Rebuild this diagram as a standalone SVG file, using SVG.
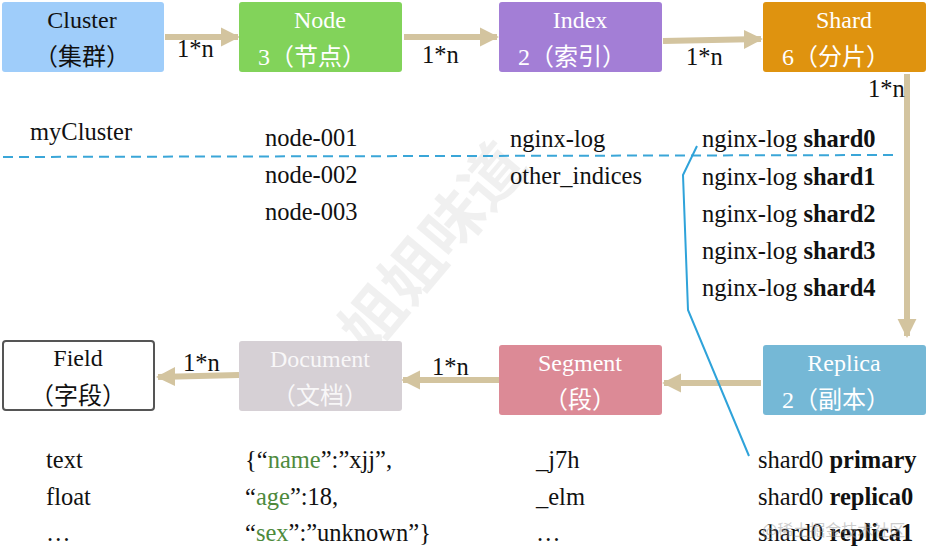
<svg xmlns="http://www.w3.org/2000/svg" width="926" height="558" viewBox="0 0 926 558">
<style>
.t{font-family:"Liberation Serif","Noto Sans CJK SC",serif;font-size:24.5px;fill:#111}
.bt{font-family:"Liberation Serif","Noto Sans CJK SC",serif;font-size:24px;fill:#fff;text-anchor:middle}
.dk{fill:#111}
.b{font-weight:bold}
.g{fill:#4e8a3c}
.arr{stroke:#d3c49f;stroke-width:6;fill:none}
</style>
<defs>
<marker id="ah" viewBox="0 0 10 10" refX="9" refY="5" markerWidth="3.2" markerHeight="3.2" orient="auto" markerUnits="strokeWidth">
<path d="M0,0 L10,5 L0,10 z" fill="#d3c49f"/>
</marker>
</defs>
<rect width="926" height="558" fill="#fff"/>
<text x="430" y="285" transform="rotate(-50 430 285)" font-family="Noto Sans CJK SC,sans-serif" font-size="62" font-weight="bold" fill="#000" fill-opacity="0.06" text-anchor="middle">小姐姐味道</text>

<g id="connectors">
<line class="arr" x1="165" y1="37" x2="238" y2="37" marker-end="url(#ah)"/>
<line class="arr" x1="404" y1="37" x2="497" y2="37" marker-end="url(#ah)"/>
<line class="arr" x1="663" y1="41" x2="761" y2="39" marker-end="url(#ah)"/>
<line class="arr" x1="907" y1="74" x2="907" y2="336" marker-end="url(#ah)"/>
<line class="arr" x1="761" y1="383" x2="664" y2="383" marker-end="url(#ah)"/>
<line class="arr" x1="499" y1="380" x2="403" y2="380" marker-end="url(#ah)"/>
<line class="arr" x1="239" y1="375" x2="158" y2="377" marker-end="url(#ah)"/>
<text class="t" x="177" y="57">1*n</text>
<text class="t" x="422" y="63">1*n</text>
<text class="t" x="686" y="65">1*n</text>
<text class="t" x="868" y="97">1*n</text>
<text class="t" x="432" y="375">1*n</text>
<text class="t" x="183" y="371">1*n</text>
<line x1="3" y1="157" x2="896" y2="155" stroke="#3aa6d8" stroke-width="2" stroke-dasharray="10,6"/>
<polyline points="697,146 683,175 688,310 749,456" fill="none" stroke="#2fa3da" stroke-width="2"/>
</g>

<g id="cluster">
<rect x="2" y="2" width="162" height="70" rx="3" fill="#9fcdfa"/>
<text class="bt dk" x="82" y="28">Cluster</text>
<text class="bt dk" x="82" y="65">（集群）</text>
</g>
<g id="node">
<rect x="239" y="2" width="163" height="70" rx="3" fill="#82d35a"/>
<text class="bt" x="320" y="28">Node</text>
<text class="bt" x="312" y="65">3（节点）</text>
</g>
<g id="index">
<rect x="499" y="2" width="163" height="70" rx="3" fill="#a37ed6"/>
<text class="bt" x="580" y="28">Index</text>
<text class="bt" x="572" y="65">2（索引）</text>
</g>
<g id="shard">
<rect x="763" y="2" width="163" height="70" rx="3" fill="#df930f"/>
<text class="bt" x="844" y="28">Shard</text>
<text class="bt" x="836" y="65">6（分片）</text>
</g>
<g id="replica">
<rect x="763" y="345" width="163" height="70" rx="3" fill="#75b8d6"/>
<text class="bt" x="844" y="371">Replica</text>
<text class="bt" x="836" y="408">2（副本）</text>
</g>
<g id="segment">
<rect x="499" y="345" width="163" height="70" rx="3" fill="#dc8a96"/>
<text class="bt" x="580" y="371">Segment</text>
<text class="bt" x="580" y="408">（段）</text>
</g>
<g id="document">
<rect x="239" y="341" width="163" height="70" rx="3" fill="#d6d0d5"/>
<text class="bt" x="320" y="367" fill-opacity="0.85">Document</text>
<text class="bt" x="320" y="404" fill-opacity="0.85">（文档）</text>
</g>
<g id="field">
<rect x="3" y="341" width="151" height="69" rx="3" fill="#fff" stroke="#555" stroke-width="2"/>
<text class="bt dk" x="78" y="366">Field</text>
<text class="bt dk" x="78" y="404">（字段）</text>
</g>

<g id="labels">
<text class="t" x="30" y="140">myCluster</text>
<text class="t" x="265" y="146">node-001</text>
<text class="t" x="265" y="183">node-002</text>
<text class="t" x="265" y="220">node-003</text>
<text class="t" x="510" y="147">nginx-log</text>
<text class="t" x="510" y="184">other_indices</text>
<text class="t" x="702" y="147">nginx-log <tspan class="b">shard0</tspan></text>
<text class="t" x="702" y="185">nginx-log <tspan class="b">shard1</tspan></text>
<text class="t" x="702" y="222">nginx-log <tspan class="b">shard2</tspan></text>
<text class="t" x="702" y="259">nginx-log <tspan class="b">shard3</tspan></text>
<text class="t" x="702" y="296">nginx-log <tspan class="b">shard4</tspan></text>
<text class="t" x="46" y="468">text</text>
<text class="t" x="46" y="505">float</text>
<text class="t" x="46" y="541">…</text>
<text class="t" x="245" y="468">{“<tspan class="g">name</tspan>”:”xjj”,</text>
<text class="t" x="245" y="505">“<tspan class="g">age</tspan>”:18,</text>
<text class="t" x="245" y="541">“<tspan class="g">sex</tspan>”:”unknown”}</text>
<text class="t" x="536" y="468">_j7h</text>
<text class="t" x="536" y="505">_elm</text>
<text class="t" x="536" y="541">…</text>
<text class="t" x="758" y="468">shard0 <tspan class="b">primary</tspan></text>
<text class="t" x="758" y="505">shard0 <tspan class="b">replica0</tspan></text>
<text class="t" x="758" y="541">shard0 <tspan class="b">replica1</tspan></text>
</g>
<text x="762" y="536" font-family="Noto Sans CJK SC,sans-serif" font-size="16" fill="#999" fill-opacity="0.5">@稀土掘金技术社区</text>
</svg>
